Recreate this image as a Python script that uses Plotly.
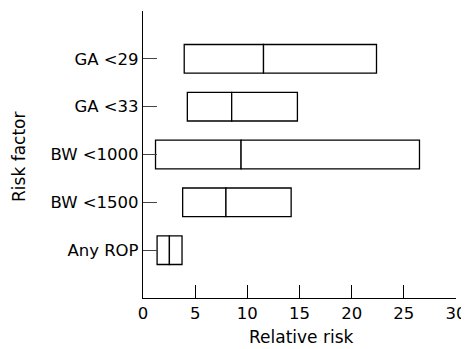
import plotly.graph_objects as go

categories = ["Any ROP", "BW <1500", "BW <1000", "GA <33", "GA <29"]
lower = [1.35, 3.8, 1.2, 4.25, 3.95]
point = [2.53, 7.95, 9.4, 8.5, 11.55]
upper = [3.74, 14.2, 26.5, 14.8, 22.38]
x_ticks = [0, 5, 10, 15, 20, 25, 30]

ypos = list(range(len(categories)))
FONT = "DejaVu Sans"

fig = go.Figure()
fig.add_trace(go.Bar(
    y=ypos, x=[p - l for p, l in zip(point, lower)], base=lower, orientation="h",
    width=0.6, marker=dict(color="white", line=dict(color="black", width=1.3)),
    showlegend=False, hoverinfo="skip"))
fig.add_trace(go.Bar(
    y=ypos, x=[u - p for u, p in zip(upper, point)], base=point, orientation="h",
    width=0.6, marker=dict(color="white", line=dict(color="black", width=1.3)),
    showlegend=False, hoverinfo="skip"))

fig.update_layout(
    width=461, height=341, barmode="overlay",
    margin=dict(l=135, r=13, t=3, b=51, autoexpand=False),
    paper_bgcolor="white", plot_bgcolor="white",
    font=dict(family=FONT, size=16.5, color="black"),
    xaxis=dict(range=[0, 30], tickvals=x_ticks, ticks="inside", ticklen=13,
               tickwidth=1.2, tickcolor="black", showline=True, linecolor="black",
               linewidth=1.3, showgrid=False, zeroline=False, automargin=False,
               tickfont=dict(size=16.5)),
    yaxis=dict(range=[-1, 5], tickvals=ypos, ticktext=categories, ticks="inside",
               ticklen=14, tickwidth=1.2, tickcolor="#444444", showline=True,
               linecolor="black", linewidth=1.3, showgrid=False, zeroline=False,
               automargin=False, tickfont=dict(size=16.5)),
    annotations=[
        dict(text="Relative risk", xref="paper", yref="paper", x=0.5, y=0,
             xshift=2, yshift=-39, yanchor="middle", xanchor="center",
             showarrow=False, font=dict(size=17)),
        dict(text="Risk factor", xref="paper", yref="paper", x=0, y=0.5,
             xshift=-124.5, yshift=-3, xanchor="center", yanchor="middle",
             textangle=-90, showarrow=False, font=dict(size=17)),
    ],
)

fig.write_html("out.html")
